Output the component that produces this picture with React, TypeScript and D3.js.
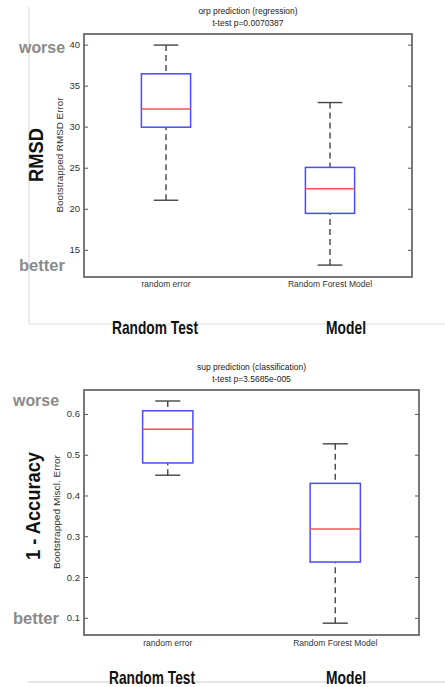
import React from "react";
import * as d3 from "d3";

// box stats: [lowWhisker, q1, median, q3, highWhisker]
const categories = ["random error", "Random Forest Model"];
const groupLabels = ["Random Test", "Model"];

const rmsdStats = [
  [21.1, 30.0, 32.2, 36.5, 40.0],
  [13.2, 19.5, 22.5, 25.1, 33.0],
];
const rmsdDomain = [11.75, 41.35];

const misclStats = [
  [0.451, 0.481, 0.564, 0.609, 0.633],
  [0.088, 0.238, 0.319, 0.431, 0.528],
];
const misclDomain = [0.059, 0.66];

type PanelProps = {
  left: number;
  right: number;
  top: number;
  bottom: number;
  domain: number[];
  stats: number[][];
  fmt: string;
  title: string[];
  yLabel: string;
  yLabelX: number;
  yLabelY: number;
  yLabelLen: number;
  bigLabel: string;
  bigX: number;
  bigY: number;
  bigLen: number;
  worseX: number;
  worseY: number;
  betterY: number;
  catY: number;
  groupY: number;
  groupX: number[];
};

const Panel: React.FC<PanelProps> = (p) => {
  const y = d3.scaleLinear().domain(p.domain).range([p.bottom, p.top]);
  const x = d3.scaleLinear().domain([0.5, 2.5]).range([p.left, p.right]);
  const ticks = y.ticks(6);
  const format = d3.format(p.fmt);
  const unit = x(1) - x(0);
  const boxW = unit * 0.3;
  const capW = unit * 0.15;
  const cx = (p.left + p.right) / 2;
  const whisker = "#444";

  return (
    <g>
      <text x={cx} y={p.top - 20} textAnchor="middle" fontSize={8.5} fill="#222">
        {p.title[0]}
      </text>
      <text x={cx} y={p.top - 8} textAnchor="middle" fontSize={8.5} fill="#222">
        {p.title[1]}
      </text>

      {ticks.map((t) => (
        <g key={t}>
          <line x1={p.left} x2={p.left + 4} y1={y(t)} y2={y(t)} stroke="#555" />
          <line x1={p.right - 4} x2={p.right} y1={y(t)} y2={y(t)} stroke="#555" />
          <text x={p.left - 4} y={y(t) + 3} textAnchor="end" fontSize={9.5} fill="#333">
            {format(t)}
          </text>
        </g>
      ))}

      {p.stats.map((s, i) => {
        const c = x(i + 1);
        return (
          <g key={i}>
            <line x1={c} x2={c} y1={y(s[4])} y2={y(s[3])} stroke={whisker} strokeWidth={1.4} strokeDasharray="6,4" />
            <line x1={c} x2={c} y1={y(s[0])} y2={y(s[1])} stroke={whisker} strokeWidth={1.4} strokeDasharray="6,4" />
            <line x1={c - capW / 2} x2={c + capW / 2} y1={y(s[4])} y2={y(s[4])} stroke={whisker} strokeWidth={1.4} />
            <line x1={c - capW / 2} x2={c + capW / 2} y1={y(s[0])} y2={y(s[0])} stroke={whisker} strokeWidth={1.4} />
            <rect
              x={c - boxW / 2}
              y={y(s[3])}
              width={boxW}
              height={y(s[1]) - y(s[3])}
              fill="none"
              stroke="#4a4aff"
              strokeWidth={1.5}
            />
            <line x1={c - boxW / 2} x2={c + boxW / 2} y1={y(s[2])} y2={y(s[2])} stroke="#ff5050" strokeWidth={1.5} />
            <text x={c} y={p.catY} textAnchor="middle" fontSize={8.5} fill="#333">
              {categories[i]}
            </text>
          </g>
        );
      })}

      <rect
        x={p.left}
        y={p.top}
        width={p.right - p.left}
        height={p.bottom - p.top}
        fill="none"
        stroke="#6a6a6a"
        strokeWidth={1.8}
      />

      <text
        transform={`translate(${p.yLabelX},${p.yLabelY}) rotate(-90)`}
        textAnchor="middle"
        fontSize={8.5}
        fill="#333"
        textLength={p.yLabelLen}
        lengthAdjust="spacingAndGlyphs"
      >
        {p.yLabel}
      </text>
      <text
        transform={`translate(${p.bigX},${p.bigY}) rotate(-90)`}
        textAnchor="middle"
        fontSize={21}
        fontWeight="bold"
        fill="#111"
        textLength={p.bigLen}
        lengthAdjust="spacingAndGlyphs"
      >
        {p.bigLabel}
      </text>

      <text x={p.worseX} y={p.worseY} fontSize={17} fontWeight="bold" fill="#8a8a8a" textLength={46} lengthAdjust="spacingAndGlyphs">
        worse
      </text>
      <text x={p.worseX} y={p.betterY} fontSize={17} fontWeight="bold" fill="#8a8a8a" textLength={46} lengthAdjust="spacingAndGlyphs">
        better
      </text>

      <text x={p.groupX[0]} y={p.groupY} textAnchor="middle" fontSize={19} fontWeight="bold" fill="#111" textLength={86} lengthAdjust="spacingAndGlyphs">
        {groupLabels[0]}
      </text>
      <text x={p.groupX[1]} y={p.groupY} textAnchor="middle" fontSize={19} fontWeight="bold" fill="#111" textLength={40} lengthAdjust="spacingAndGlyphs">
        {groupLabels[1]}
      </text>
    </g>
  );
};

export default function App() {
  return (
    <svg
      width={445}
      height={687}
      style={{ position: "fixed", left: 0, top: 0, background: "#fff", fontFamily: "'Liberation Sans', Arial, sans-serif" }}
    >
      <rect width={445} height={687} fill="#fff" />
      {/* light guide lines framing the top panel */}
      <line x1={29} x2={29} y1={7} y2={324} stroke="#ddd" strokeWidth={1.2} />
      <line x1={29} x2={445} y1={324} y2={324} stroke="#ddd" strokeWidth={1.2} />
      <line x1={28} x2={445} y1={682} y2={682} stroke="#ccc" strokeWidth={1.2} />

      <Panel
        left={84}
        right={412}
        top={34}
        bottom={277}
        domain={rmsdDomain}
        stats={rmsdStats}
        fmt=".0f"
        title={["orp prediction (regression)", "t-test p=0.0070387"]}
        yLabel="Bootstrapped RMSD Error"
        yLabelX={63}
        yLabelY={155}
        yLabelLen={115}
        bigLabel="RMSD"
        bigX={43}
        bigY={155}
        bigLen={54}
        worseX={19}
        worseY={53}
        betterY={271}
        catY={287}
        groupY={334}
        groupX={[155, 346]}
      />
      <Panel
        left={84}
        right={419}
        top={390}
        bottom={635}
        domain={misclDomain}
        stats={misclStats}
        fmt=".1f"
        title={["sup prediction (classification)", "t-test p=3.5685e-005"]}
        yLabel="Bootstrapped Miscl. Error"
        yLabelX={60}
        yLabelY={512}
        yLabelLen={114}
        bigLabel="1 - Accuracy"
        bigX={40}
        bigY={506}
        bigLen={108}
        worseX={13}
        worseY={406}
        betterY={624}
        catY={646}
        groupY={684}
        groupX={[152, 346]}
      />
    </svg>
  );
}
